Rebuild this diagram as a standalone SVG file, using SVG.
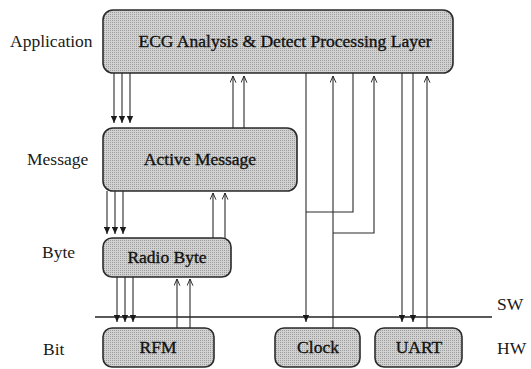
<svg xmlns="http://www.w3.org/2000/svg" width="531" height="369" viewBox="0 0 531 369">
  <defs>
    <!-- dithered grey fill for the layer boxes -->
    <pattern id="grain" width="2" height="2" patternUnits="userSpaceOnUse">
      <rect width="2" height="2" fill="#d2d2d2"/>
      <rect width="1" height="1" fill="#9c9c9c"/>
    </pattern>
    <marker id="solid" viewBox="0 0 10 10" refX="10" refY="5" markerWidth="7" markerHeight="7" markerUnits="userSpaceOnUse" orient="auto">
      <path d="M0,0.5 L10,5 L0,9.5 z" fill="#1a1a1a"/>
    </marker>
    <marker id="open" viewBox="0 0 10 10" refX="9.5" refY="5" markerWidth="7" markerHeight="7" markerUnits="userSpaceOnUse" orient="auto">
      <path d="M0,0.8 L9.5,5 L0,9.2" fill="none" stroke="#1a1a1a" stroke-width="1.3"/>
    </marker>
  </defs>
  <style>
    .box{fill:url(#grain);stroke:#2b2b2b;stroke-width:1.6}
    .lbl{font-family:"Liberation Serif","Times New Roman",serif;font-size:17.5px;fill:#1a1a1a}
    .bt{font-family:"Liberation Serif","Times New Roman",serif;font-size:17.5px;fill:#111;stroke:#111;stroke-width:0.35;text-anchor:middle}
    .wire{stroke:#2b2b2b;stroke-width:1.1;fill:none}
    .dn{marker-end:url(#solid)}
    .up{marker-end:url(#open)}
    .divider{stroke:#222;stroke-width:1.5;fill:none}
  </style>

  <rect width="531" height="369" fill="#ffffff"/>

  <!-- layer names -->
  <g id="layer-labels">
    <text class="lbl" x="10" y="47">Application</text>
    <text class="lbl" x="27" y="165">Message</text>
    <text class="lbl" x="42" y="258">Byte</text>
    <text class="lbl" x="43" y="355">Bit</text>
    <text class="lbl" x="497" y="310">SW</text>
    <text class="lbl" x="497" y="354">HW</text>
  </g>

  <!-- software / hardware boundary -->
  <path class="divider" d="M95,317 H492"/>

  <g id="app">
    <rect class="box" x="103" y="10" width="350" height="63" rx="10"/>
    <text class="bt" x="285" y="47">ECG Analysis &amp; Detect Processing Layer</text>
  </g>
  <g id="active-message">
    <rect class="box" x="103" y="128" width="194" height="63" rx="10"/>
    <text class="bt" x="200" y="165">Active Message</text>
  </g>
  <g id="radio-byte">
    <rect class="box" x="103" y="238" width="128" height="39" rx="9"/>
    <text class="bt" x="167" y="263">Radio Byte</text>
  </g>
  <g id="rfm">
    <rect class="box" x="103" y="328" width="111" height="39" rx="9"/>
    <text class="bt" x="158" y="353">RFM</text>
  </g>
  <g id="clock">
    <rect class="box" x="275" y="328" width="85" height="39" rx="9"/>
    <text class="bt" x="318" y="353">Clock</text>
  </g>
  <g id="uart">
    <rect class="box" x="375" y="328" width="87" height="39" rx="9"/>
    <text class="bt" x="419" y="353">UART</text>
  </g>

  <g id="connectors">
    <!-- application <-> active message -->
    <path class="wire dn" d="M114,73 V123"/>
    <path class="wire dn" d="M122,73 V123"/>
    <path class="wire dn" d="M130,73 V123"/>
    <path class="wire up" d="M233,128 V76"/>
    <path class="wire up" d="M244,128 V76"/>
    <!-- active message <-> radio byte -->
    <path class="wire dn" d="M107,191 V234"/>
    <path class="wire dn" d="M115,191 V234"/>
    <path class="wire dn" d="M123,191 V234"/>
    <path class="wire up" d="M213,238 V193"/>
    <path class="wire up" d="M225,238 V193"/>
    <!-- radio byte <-> RFM -->
    <path class="wire dn" d="M117,277 V322"/>
    <path class="wire dn" d="M125,277 V322"/>
    <path class="wire dn" d="M133,277 V322"/>
    <path class="wire up" d="M177,328 V279"/>
    <path class="wire up" d="M190,328 V279"/>
    <!-- application <-> clock -->
    <path class="wire dn" d="M306,73 V322"/>
    <path class="wire" d="M353,73 V212 H306"/>
    <path class="wire up" d="M333,328 V76"/>
    <path class="wire up" d="M333,233 H374 V76"/>
    <!-- application <-> UART -->
    <path class="wire dn" d="M402,73 V322"/>
    <path class="wire dn" d="M413,73 V322"/>
    <path class="wire up" d="M427,328 V76"/>
  </g>
</svg>
